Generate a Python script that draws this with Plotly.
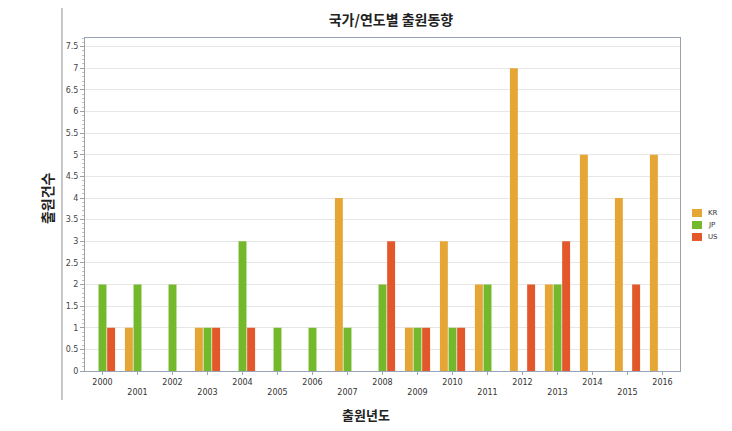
import plotly.graph_objects as go

years = ["2000", "2001", "2002", "2003", "2004", "2005", "2006", "2007", "2008",
         "2009", "2010", "2011", "2012", "2013", "2014", "2015", "2016"]
kr = [0, 1, 0, 1, 0, 0, 0, 4, 0, 1, 3, 2, 7, 2, 5, 4, 5]
jp = [2, 2, 2, 1, 3, 1, 1, 1, 2, 1, 1, 2, 0, 2, 0, 0, 0]
us = [1, 0, 0, 1, 1, 0, 0, 0, 3, 1, 1, 0, 2, 3, 0, 2, 0]
series_names = ["KR", "JP", "US"]
series_colors = ["#E6A636", "#74B82C", "#E2582B"]

# staggered tick labels: odd years drop to a second row
tick_text = [y if i % 2 == 0 else "<br>" + y for i, y in enumerate(years)]

font_kr = "Noto Sans CJK KR"

fig = go.Figure()
for name, vals, col in zip(series_names, [kr, jp, us], series_colors):
    fig.add_trace(go.Bar(x=years, y=vals, name=name,
                         marker=dict(color=col, line=dict(width=0))))

fig.update_layout(
    width=724, height=423,
    margin=dict(l=77, r=52, t=30, b=60, autoexpand=False),
    paper_bgcolor="white", plot_bgcolor="white",
    barmode="group", bargap=0.26, bargroupgap=0.08,
    font=dict(family="DejaVu Sans", size=8, color="#444444"),
    title=dict(text="<b>국가/연도별 출원동향</b>", x=0.529, xanchor="center",
               xref="container", y=0.9716, yanchor="middle",
               font=dict(family=font_kr, size=14, color="#222222")),
    showlegend=False,
)

fig.update_xaxes(
    type="category", tickmode="array", tickvals=years, ticktext=tick_text,
    showline=True, linecolor="#9aa4b8", linewidth=1, mirror=True,
    ticks="outside", ticklen=3, tickcolor="#9aa4b8",
    tickfont=dict(size=8, color="#333333"),
    showgrid=False, automargin=False,
)

fig.update_yaxes(
    range=[0, 7.7], dtick=0.5, tick0=0,
    showline=True, linecolor="#a0a0a0", linewidth=1, mirror=True,
    ticks="outside", ticklen=4, tickcolor="#a0a0a0",
    minor=dict(ticks="outside", ticklen=2, dtick=0.1, tickcolor="#c0c0c0", showgrid=False),
    gridcolor="#e6e6e6", gridwidth=1,
    tickfont=dict(size=8, color="#444444"),
    tickformat="~g",
    showgrid=True, zeroline=False, automargin=False,
)

# y-axis title
fig.add_annotation(text="<b>출원건수</b>", xref="paper", yref="paper",
                   x=-0.0635, y=0.52, xanchor="center", yanchor="middle", textangle=-90,
                   showarrow=False, font=dict(family=font_kr, size=14, color="#222222"))

# x-axis title (sits left of the plot centre in the original)
fig.add_annotation(text="<b>출원년도</b>", xref="paper", yref="paper",
                   x=0.472, y=-0.132, xanchor="center", yanchor="middle",
                   showarrow=False, font=dict(family=font_kr, size=13, color="#222222"))

# small legend to the right of the plot
for i, (name, col) in enumerate(zip(series_names, series_colors)):
    top = 0.4865 - i * 0.036
    fig.add_shape(type="rect", xref="paper", yref="paper",
                  x0=1.0202, x1=1.037, y0=top - 0.024, y1=top,
                  fillcolor=col, line=dict(width=0))
    fig.add_annotation(text=name, xref="paper", yref="paper",
                       x=1.043, y=top - 0.012, xanchor="left", yanchor="middle",
                       showarrow=False, font=dict(family="DejaVu Sans", size=7, color="#333333"))

# left frame line of the container
fig.add_shape(type="line", xref="paper", yref="paper",
              x0=-0.0387, x1=-0.0387, y0=-0.087, y1=1.09,
              line=dict(color="#909090", width=1))

fig.write_html("out.html")
